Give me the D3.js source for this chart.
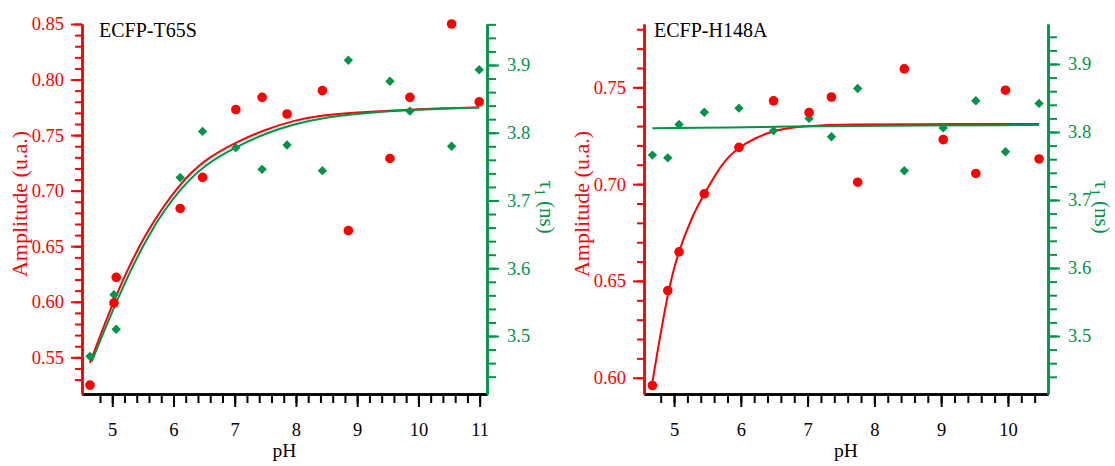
<!DOCTYPE html>
<html>
<head>
<meta charset="utf-8">
<script src="https://cdn.jsdelivr.net/npm/d3@7"></script>
<style>
  html, body { margin: 0; padding: 0; background: #fff; }
  svg { display: block; }
  text { font-family: "Liberation Serif", "Times New Roman", "DejaVu Serif", serif; }
</style>
</head>
<body>
<svg id="chart" width="1115" height="466"></svg>
<script>
// ---------- Data ----------
// Panel A: ECFP-T65S
const phA = [4.636, 5.028, 5.065, 6.109, 6.475, 7.018, 7.447, 7.855, 8.432, 8.856, 9.535, 9.861, 10.542, 10.993];
const ampA = [0.525, 0.599, 0.622, 0.684, 0.712, 0.773, 0.784, 0.769, 0.790, 0.664, 0.729, 0.784, 0.850, 0.780];
const tauA = [3.470, 3.561, 3.510, 3.734, 3.802, 3.778, 3.746, 3.782, 3.744, 3.907, 3.876, 3.832, 3.780, 3.893];
// Fit curves, panel A
const fitAmpA_ph = [4.636, 5.044, 5.533, 6.104, 6.512, 7.001, 7.491, 7.980, 8.432, 9.0, 9.535, 10.0, 10.5, 10.993];
const fitAmpA    = [0.545, 0.605, 0.662, 0.707, 0.728, 0.743, 0.755, 0.7635, 0.768, 0.7705, 0.772, 0.7733, 0.7743, 0.775];
const fitTauA_ph = [4.664, 5.072, 5.587, 6.132, 6.55, 7.001, 7.491, 7.980, 8.432, 9.0, 9.535, 10.0, 10.5, 10.993];
const fitTauA    = [3.462, 3.553, 3.652, 3.721, 3.755, 3.778, 3.799, 3.813, 3.822, 3.828, 3.832, 3.834, 3.836, 3.837];

// Panel B: ECFP-H148A
const phB = [4.676, 4.906, 5.075, 5.453, 5.972, 6.490, 7.022, 7.357, 7.750, 8.448, 9.031, 9.519, 9.963, 10.466];
const ampB = [0.596, 0.645, 0.665, 0.695, 0.719, 0.743, 0.737, 0.745, 0.701, 0.7595, 0.723, 0.7055, 0.7485, 0.713];
const tauB = [3.766, 3.762, 3.811, 3.829, 3.835, 3.802, 3.820, 3.793, 3.864, 3.743, 3.806, 3.846, 3.771, 3.842];
const fitAmpB_ph = [4.667, 4.906, 5.064, 5.265, 5.453, 5.713, 5.961, 6.211, 6.484, 6.809, 7.2, 7.556, 8.5, 10.466];
const fitAmpB    = [0.596, 0.645, 0.665, 0.683, 0.695, 0.7107, 0.719, 0.7237, 0.7276, 0.7296, 0.7304, 0.7308, 0.7310, 0.7310];
const fitTauB_ph = [4.676, 6.5, 7.36, 10.466];
const fitTauB    = [3.8054, 3.8075, 3.809, 3.8103];

// Tick values
const xMajorA = [5, 6, 7, 8, 9, 10, 11];
const xMajorB = [5, 6, 7, 8, 9, 10];
const ampMajorA = [0.55, 0.60, 0.65, 0.70, 0.75, 0.80, 0.85];
const ampMajorB = [0.60, 0.65, 0.70, 0.75];
const tauMajor = [3.5, 3.6, 3.7, 3.8, 3.9];

const titles = ["ECFP-T65S", "ECFP-H148A"];
const xLabel = "pH";
const yLabel = "Amplitude (u.a.)";

const RED = "#ff0000";
const GREEN = "#009448";
const TICKFONT = 18.5;
const SERIF = '"Liberation Serif", "Times New Roman", "DejaVu Serif", serif';

const svg = d3.select("#chart");
svg.append("rect").attr("width", 1115).attr("height", 466).attr("fill", "#fff");

function rng(a, b, s) {
  const out = [];
  const n = Math.round((b - a) / s);
  for (let i = 0; i <= n; i++) out.push(+(a + i * s).toFixed(4));
  return out;
}

function panel(cfg) {
  const g = svg.append("g");
  const x = d3.scaleLinear().domain(cfg.xDom).range([cfg.left, cfg.right]);
  const yA = d3.scaleLinear().domain(cfg.ampDom).range([cfg.bottom, cfg.top]);
  const yT = d3.scaleLinear().domain(cfg.tauDom).range([cfg.bottom, cfg.top]);

  function styleAxis(sel, color, width) {
    sel.attr("font-family", SERIF);
    sel.selectAll("path.domain").attr("stroke", color).attr("stroke-width", width);
    sel.selectAll(".tick line").attr("stroke", color).attr("stroke-width", 2);
    sel.selectAll(".tick text").attr("fill", color).style("font-family", SERIF).style("font-size", TICKFONT + "px");
  }

  // bottom axis (minor then major)
  const bx = g.append("g").attr("transform", `translate(0,${cfg.bottom})`);
  bx.append("g").call(d3.axisBottom(x).tickValues(cfg.xMinor).tickSize(9).tickSizeOuter(0).tickFormat(""))
    .call(s => styleAxis(s, "#000", 2.5));
  bx.append("g").call(d3.axisBottom(x).tickValues(cfg.xMajor).tickSize(13).tickSizeOuter(0).tickPadding(16).tickFormat(d3.format("d")))
    .call(s => styleAxis(s, "#000", 2.5));

  // left amplitude axis
  const lx = g.append("g").attr("transform", `translate(${cfg.left},0)`);
  lx.append("g").call(d3.axisLeft(yA).tickValues(cfg.ampMinor).tickSize(7).tickSizeOuter(0).tickFormat(""))
    .call(s => styleAxis(s, RED, 2.5));
  lx.append("g").call(d3.axisLeft(yA).tickValues(cfg.ampMajor).tickSize(11).tickSizeOuter(0).tickPadding(7).tickFormat(d3.format(".2f")))
    .call(s => styleAxis(s, RED, 2.5));

  // right tau axis
  const rx = g.append("g").attr("transform", `translate(${cfg.right},0)`);
  rx.append("g").call(d3.axisRight(yT).tickValues(cfg.tauMinor).tickSize(9).tickSizeOuter(0).tickFormat(""))
    .call(s => styleAxis(s, GREEN, 2.5));
  rx.append("g").call(d3.axisRight(yT).tickValues(tauMajor).tickSize(12).tickSizeOuter(0).tickPadding(8).tickFormat(d3.format(".1f")))
    .call(s => styleAxis(s, GREEN, 2.5));

  // fit curves
  const lineA = d3.line().x(d => x(d[0])).y(d => yA(d[1])).curve(d3.curveBasis);
  const lineT = d3.line().x(d => x(d[0])).y(d => yT(d[1])).curve(d3.curveBasis);
  g.append("path").datum(d3.zip(cfg.fitAmpPh, cfg.fitAmp)).attr("d", lineA)
    .attr("fill", "none").attr("stroke", RED).attr("stroke-width", 2);
  g.append("path").datum(d3.zip(cfg.fitTauPh, cfg.fitTau)).attr("d", lineT)
    .attr("fill", "none").attr("stroke", GREEN).attr("stroke-width", 2);

  // markers
  const diamond = d3.symbol().type(d3.symbolDiamond2).size(56);
  g.append("g").selectAll("path").data(d3.zip(cfg.ph, cfg.tau)).join("path")
    .attr("d", diamond)
    .attr("transform", d => `translate(${x(d[0])},${yT(d[1])})`)
    .attr("fill", GREEN);
  g.append("g").selectAll("circle").data(d3.zip(cfg.ph, cfg.amp)).join("circle")
    .attr("cx", d => x(d[0])).attr("cy", d => yA(d[1])).attr("r", 4.8)
    .attr("fill", RED);

  // title
  g.append("text").attr("x", cfg.titleX).attr("y", 37).attr("fill", "#000")
    .style("font-size", "20px").text(cfg.title);

  // x label
  g.append("text").attr("x", (cfg.left + cfg.right) / 2).attr("y", 457)
    .attr("text-anchor", "middle").attr("fill", "#000").style("font-size", "19.5px").text(xLabel);

  // left label
  g.append("text").attr("transform", `translate(${cfg.left - 55},204) rotate(-90)`)
    .attr("text-anchor", "middle").attr("fill", RED).style("font-size", "22px").text(yLabel);

  // right label  τ1 (ns)
  const rt = g.append("text").attr("transform", `translate(${cfg.right + cfg.tauOff},207) rotate(90)`)
    .attr("text-anchor", "middle").attr("fill", GREEN).style("font-size", "21px");
  rt.append("tspan").text("τ");
  rt.append("tspan").attr("dy", 5).style("font-size", "14px").text("1");
  rt.append("tspan").attr("dy", -5).text(" (ns)");
}

panel({
  left: 82, right: 487, top: 24, bottom: 394,
  xDom: [4.506, 11.12], ampDom: [0.517, 0.85], tauDom: [3.4144, 3.9605],
  xMajor: xMajorA, xMinor: rng(4.8, 11.0, 0.2),
  ampMajor: ampMajorA, ampMinor: rng(0.53, 0.85, 0.01),
  tauMinor: rng(3.44, 3.96, 0.02),
  ph: phA, amp: ampA, tau: tauA,
  fitAmpPh: fitAmpA_ph, fitAmp: fitAmpA, fitTauPh: fitTauA_ph, fitTau: fitTauA,
  title: titles[0], titleX: 99, tauOff: 53
});

panel({
  left: 644, right: 1048, top: 24, bottom: 394,
  xDom: [4.55, 10.6], ampDom: [0.5916, 0.7827], tauDom: [3.4147, 3.9588],
  xMajor: xMajorB, xMinor: rng(4.8, 10.4, 0.2),
  ampMajor: ampMajorB, ampMinor: rng(0.60, 0.78, 0.01),
  tauMinor: rng(3.44, 3.94, 0.02),
  ph: phB, amp: ampB, tau: tauB,
  fitAmpPh: fitAmpB_ph, fitAmp: fitAmpB, fitTauPh: fitTauB_ph, fitTau: fitTauB,
  title: titles[1], titleX: 654, tauOff: 47
});
</script>
</body>
</html>
